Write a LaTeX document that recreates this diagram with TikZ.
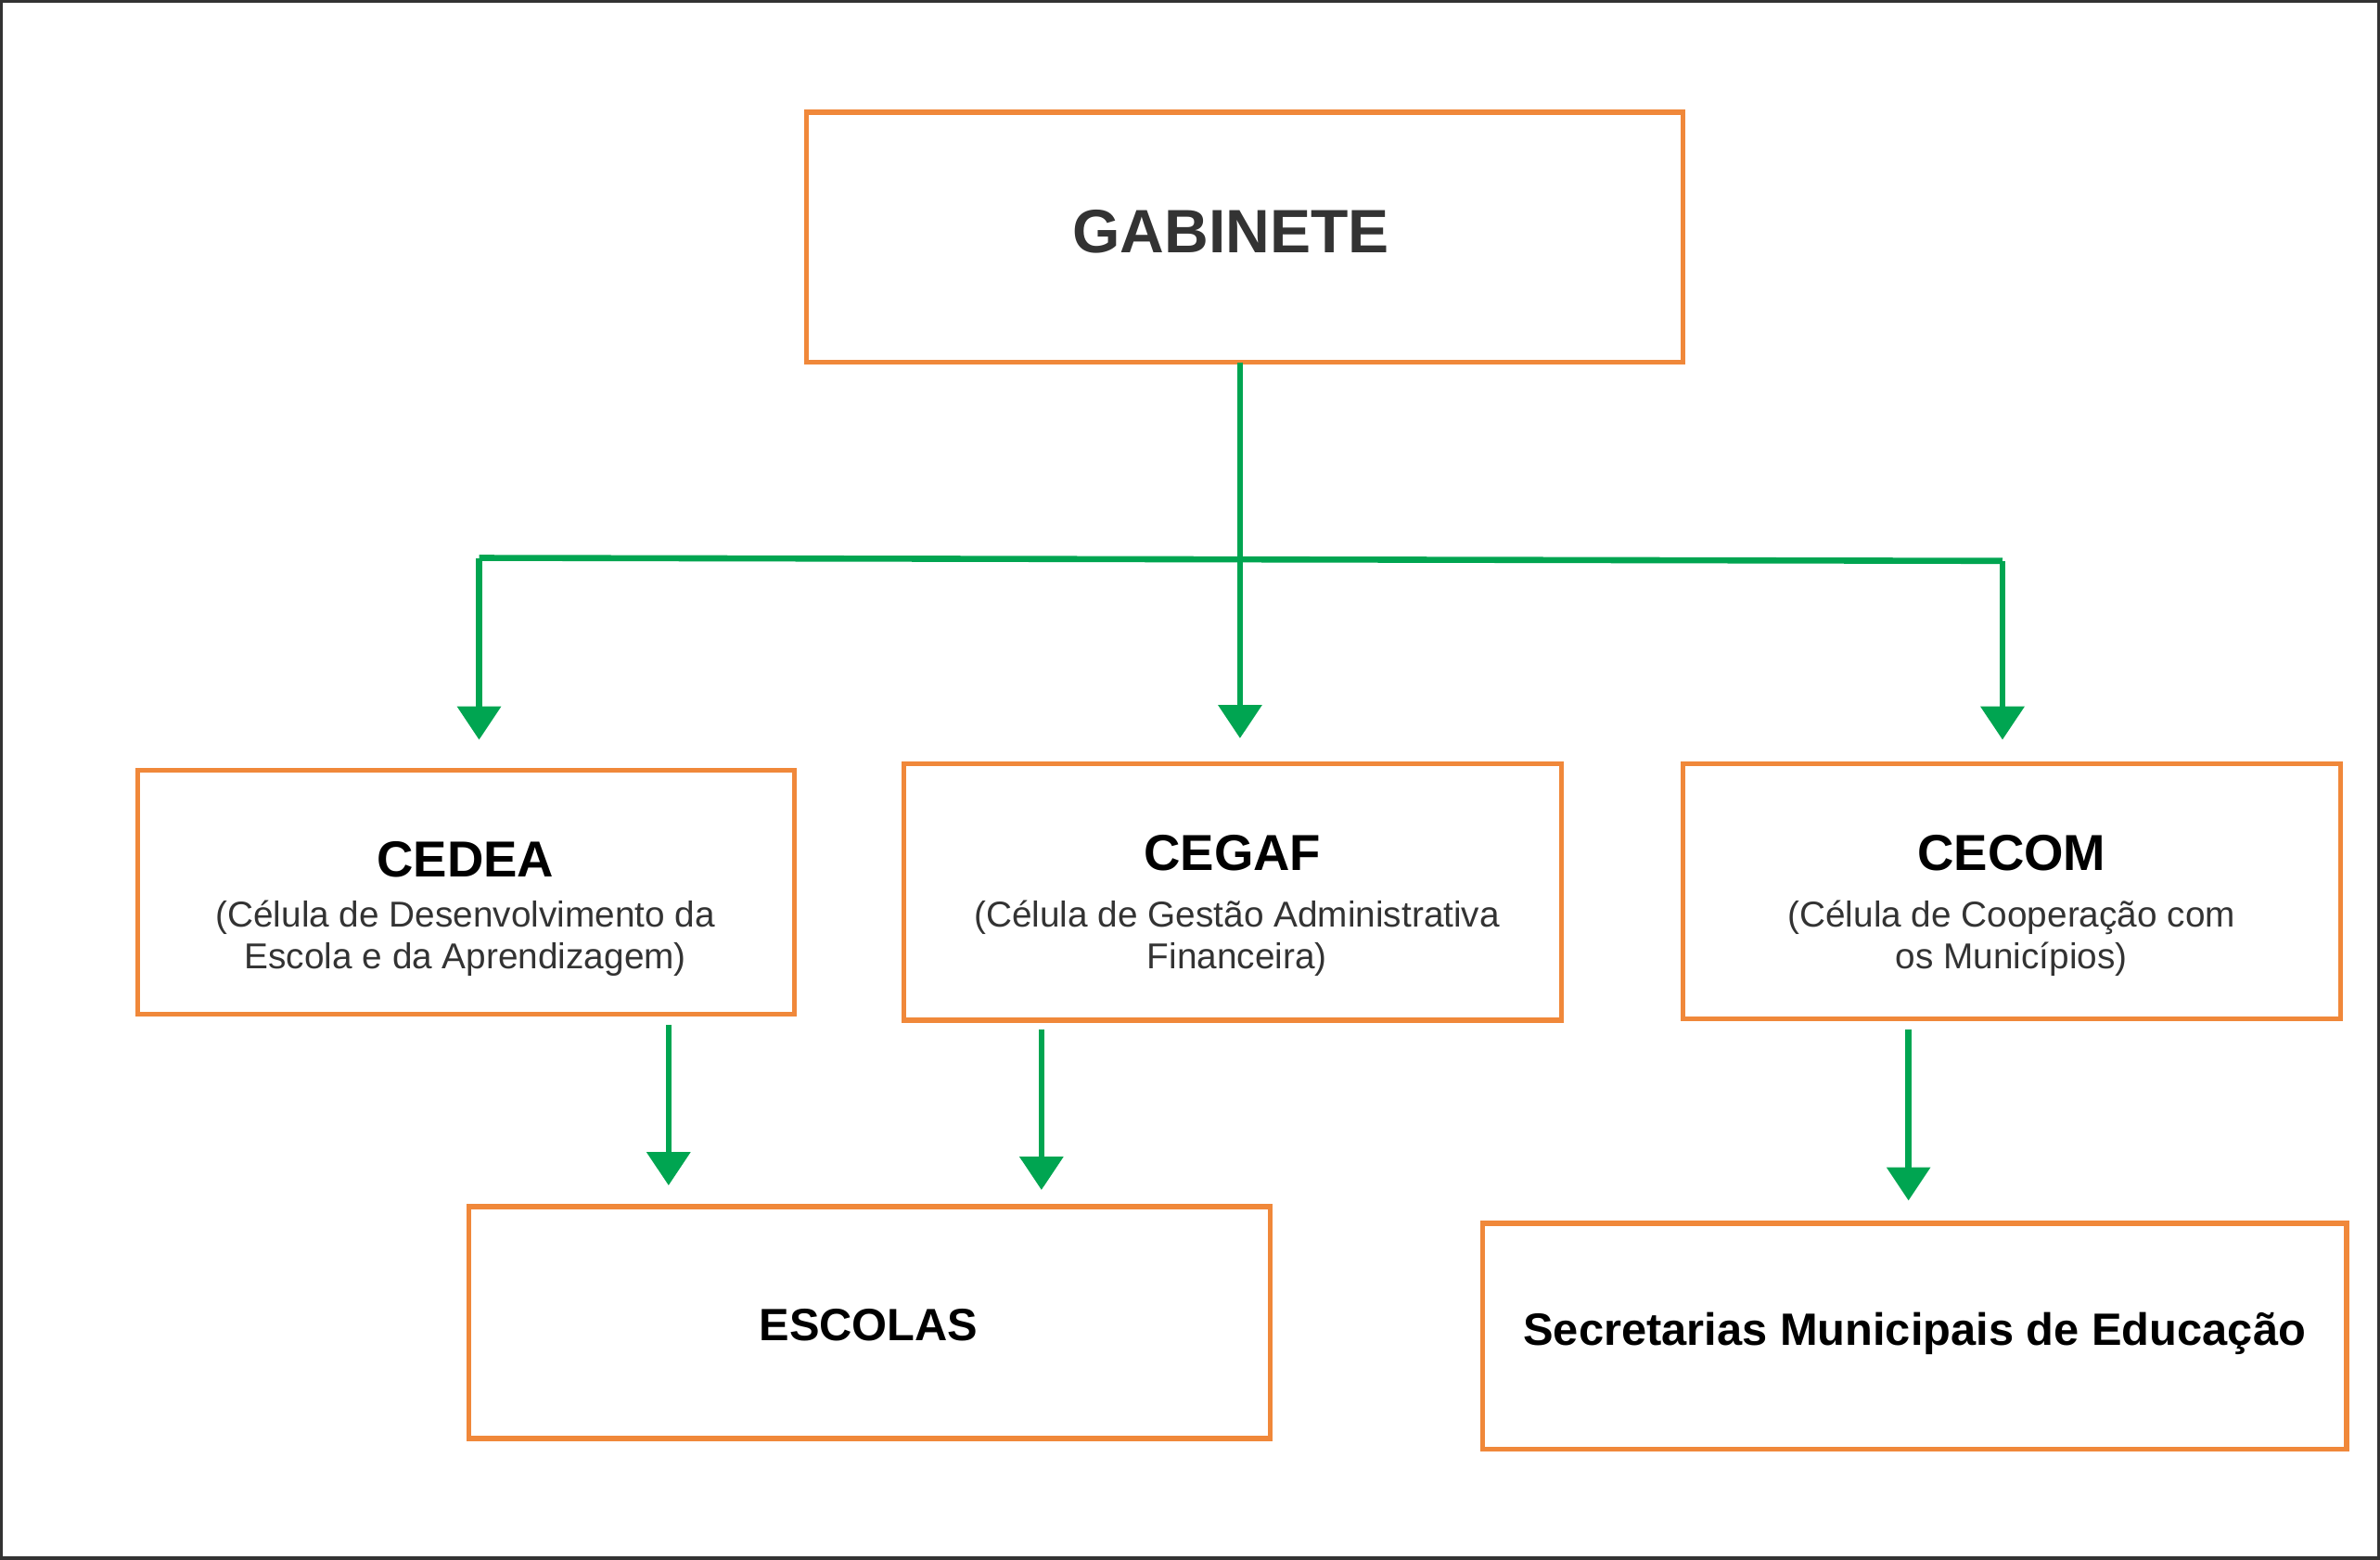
\documentclass[tikz,border=0pt]{standalone}
\usepackage{fontspec}
\setmainfont{Liberation Sans}
\usetikzlibrary{arrows.meta}
\definecolor{org}{HTML}{F0883A}
\definecolor{grn}{HTML}{00A551}
\definecolor{txt}{HTML}{333333}
\begin{document}
\begin{tikzpicture}[x=0.02cm,y=-0.02cm,
  box/.style={draw=org,line width=1.8pt},
  con/.style={draw=grn,line width=2.3pt,-{Triangle[width=16pt,length=12.5pt]}},
  ln/.style={draw=grn,line width=2.3pt},
  ti/.style={font=\bfseries\fontsize{19}{22}\selectfont},
  su/.style={font=\fontsize{13.5}{16}\selectfont,text=txt,align=center}]
\draw[draw=txt,line width=1.2pt,fill=white] (0,0) rectangle (1568,1027);
\draw[box] (531,73) rectangle (1109,238);
\node[font=\bfseries\fontsize{23}{26}\selectfont,text=txt] (gab) at (811,152) {GABINETE};
\draw[box] (90,507) rectangle (523,668);
\node[ti] (cedea) at (306,566) {CEDEA};
\node[su] (cedeas) at (306,618) {(Célula de Desenvolvimento da\\Escola e da Aprendizagem)};
\draw[box] (595,503) rectangle (1029,672);
\node[ti] (cegaf) at (812,562) {CEGAF};
\node[su] (cegafs) at (815,618) {(Célula de Gestão Administrativa\\Financeira)};
\draw[box] (1109,503) rectangle (1543,671);
\node[ti] (cecom) at (1326,562) {CECOM};
\node[su] (cecoms) at (1326,618) {(Célula de Cooperação com\\os Municípios)};
\draw[box] (308,795) rectangle (837,948);
\node[font=\bfseries\fontsize{17}{20}\selectfont] (esc) at (572,873) {ESCOLAS};
\draw[box] (977,806) rectangle (1547,955);
\node[font=\bfseries\fontsize{17}{20}\selectfont] (sec) at (1262,879) {Secretarias Municipais de Educação};
\coordinate (g0) at (817,238);
\coordinate (g1) at (817,486);
\coordinate (hl) at (315,367);
\coordinate (hr) at (1320,369);
\coordinate (l1) at (315,487);
\coordinate (r1) at (1320,487);
\draw[con] (g0) -- (g1);
\draw[ln] (hl) -- (hr);
\draw[con] (hl) -- (l1);
\draw[con] (hr) -- (r1);
\coordinate (a0) at (440,675); \coordinate (a1) at (440,781);
\coordinate (b0) at (686,678); \coordinate (b1) at (686,784);
\coordinate (c0) at (1258,678); \coordinate (c1) at (1258,791);
\draw[con] (a0) -- (a1);
\draw[con] (b0) -- (b1);
\draw[con] (c0) -- (c1);
\end{tikzpicture}
\end{document}
